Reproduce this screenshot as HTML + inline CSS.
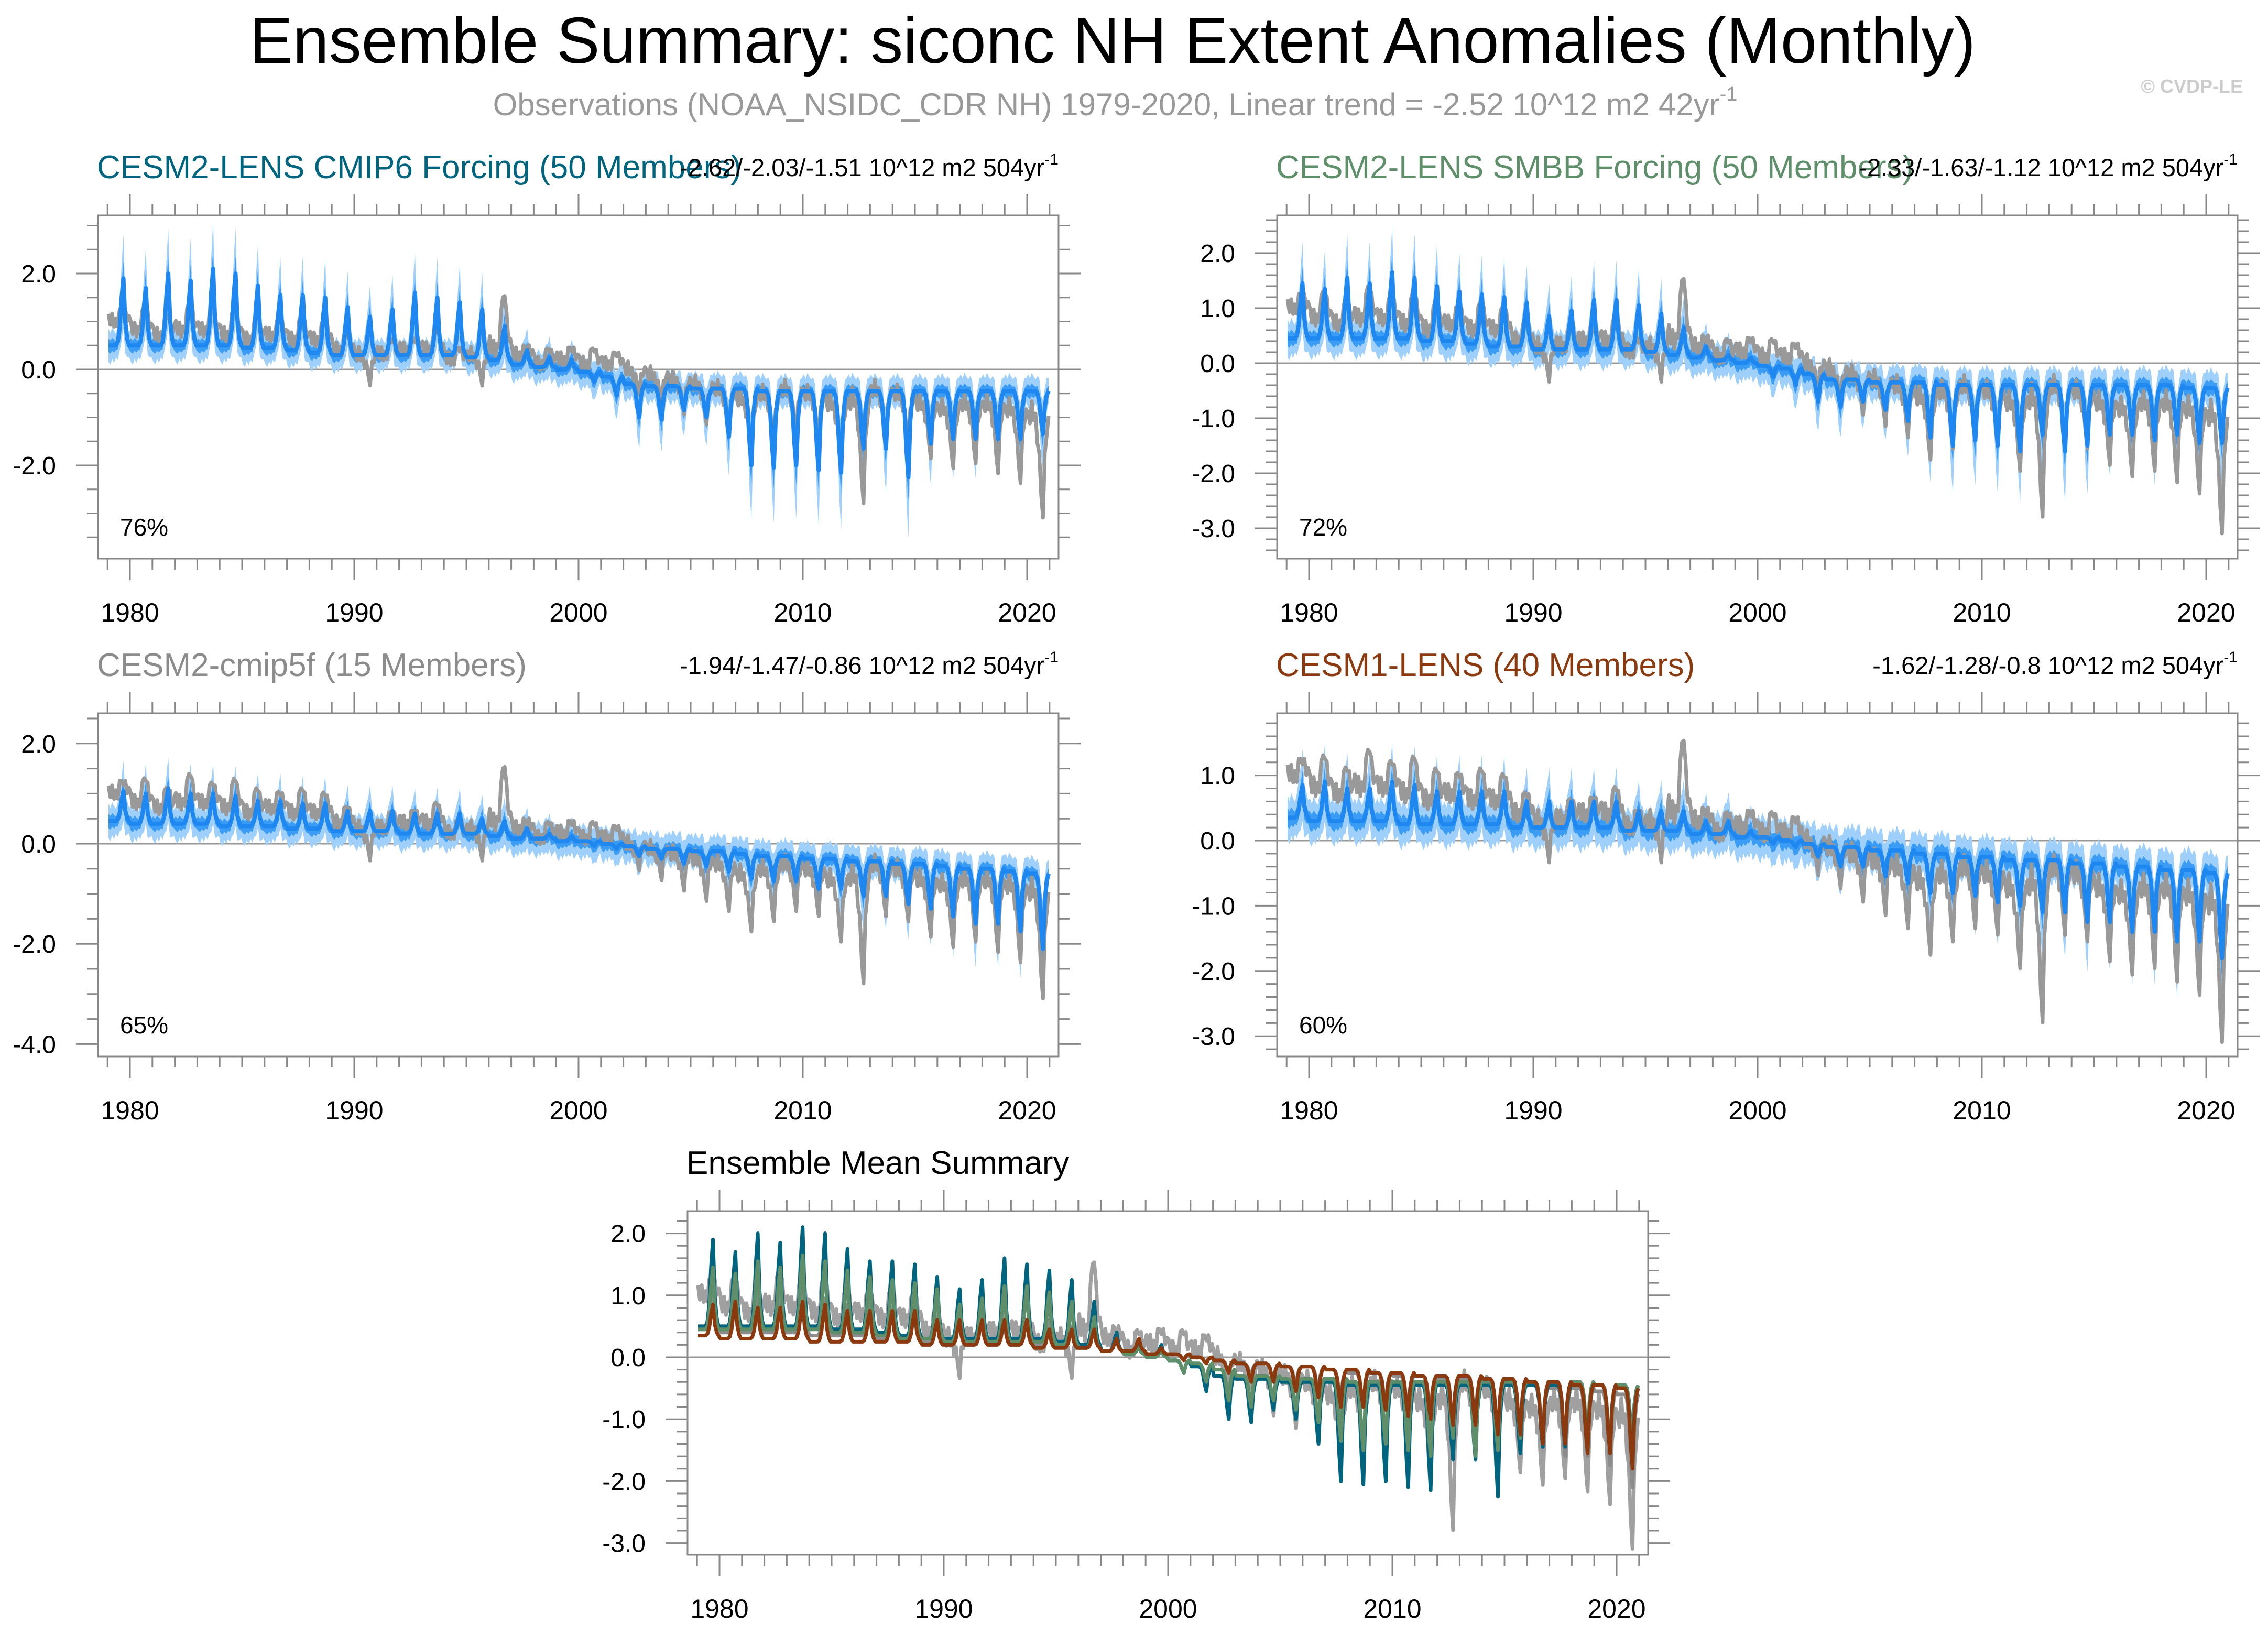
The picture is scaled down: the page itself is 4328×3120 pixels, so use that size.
<!DOCTYPE html>
<html><head><meta charset="utf-8"><style>
html,body{margin:0;padding:0;background:#fff;}
svg{display:block;font-family:"Liberation Sans",Arial,sans-serif;}
</style></head><body>
<svg id="chart" width="4328" height="3120" viewBox="0 0 4328 3120" xmlns="http://www.w3.org/2000/svg">
<rect width="4328" height="3120" fill="#fff"/>
<text x="2123" y="120" font-size="124" text-anchor="middle" fill="#000">Ensemble Summary: siconc NH Extent Anomalies (Monthly)</text>
<text x="2128" y="220" font-size="60" text-anchor="middle" fill="#999">Observations (NOAA_NSIDC_CDR NH) 1979-2020, Linear trend = -2.52 10^12 m2 42yr<tspan font-size="38" dy="-28">-1</tspan></text>
<text x="4280" y="177" font-size="36" font-weight="bold" text-anchor="end" fill="#ccc">© CVDP-LE</text>
<g id="panels"></g>
</svg>
<script>
// ---- data (one value per year 1979..2020) ----
const years = [1979,1980,1981,1982,1983,1984,1985,1986,1987,1988,1989,1990,1991,1992,1993,1994,1995,1996,1997,1998,1999,2000,2001,2002,2003,2004,2005,2006,2007,2008,2009,2010,2011,2012,2013,2014,2015,2016,2017,2018,2019,2020];
const monthShape = [0,0,0,0,0,0.05,0.25,0.7,1,0.35,0.1,0];
const obsShape = [0.1,0.05,0,0,0.05,0.2,0.5,0.85,1,0.5,0.2,0.1];
const obsWiggle = [0.12,-0.08,0.15,-0.1,0.05,-0.15,0.1,0.0,-0.12,0.1,-0.05,0.08];
const bandWiggle = [0.05,-0.04,0.08,0.0,-0.06,0.04,0.1,-0.02,0.06,-0.05,0.03,-0.03];
const obsBase = [1.0,0.8,0.7,0.8,0.8,0.7,0.6,0.7,0.6,0.6,0.4,0.3,0.3,0.4,0.4,0.2,0.3,0.4,0.3,0.1,0.2,0.1,0.1,0.0,-0.1,-0.2,-0.3,-0.4,-0.6,-0.5,-0.4,-0.5,-0.7,-0.6,-0.4,-0.5,-0.7,-0.8,-0.7,-0.7,-0.8,-0.9];
const obsSpike = [0.3,0.6,0.5,0.7,0.5,0.7,0.6,0.4,0.6,0.5,0.4,-0.5,0.4,0.3,0.5,0.3,-0.5,1.3,0.2,0.4,0.3,0.4,0.3,-0.4,-0.5,-0.6,-0.7,-0.8,-1.0,-0.9,-0.8,-0.8,-1.1,-2.0,-0.9,-0.9,-1.0,-1.1,-1.1,-1.3,-1.4,-2.0];
const cmip6Base = [0.5,0.5,0.5,0.5,0.5,0.5,0.45,0.45,0.4,0.35,0.3,0.3,0.3,0.3,0.3,0.3,0.25,0.2,0.1,0.05,0.0,-0.05,-0.15,-0.3,-0.35,-0.35,-0.4,-0.4,-0.4,-0.45,-0.45,-0.45,-0.45,-0.45,-0.45,-0.45,-0.45,-0.45,-0.45,-0.45,-0.45,-0.45];
const cmip6Spike = [1.4,1.2,1.5,1.35,1.6,1.5,1.3,1.1,1.15,1.15,1.0,0.8,0.95,1.3,1.2,1.1,1.0,0.7,0.3,0.2,0.2,-0.2,-0.4,-0.7,-0.7,-0.5,-0.6,-1.0,-1.6,-1.6,-1.55,-1.65,-1.7,-1.2,-1.2,-1.8,-1.1,-1.0,-1.0,-1.0,-1.0,-0.9];
const smbbBase = [0.45,0.45,0.45,0.45,0.45,0.45,0.4,0.4,0.35,0.3,0.3,0.25,0.25,0.25,0.25,0.25,0.2,0.15,0.1,0.05,0.0,-0.05,-0.1,-0.2,-0.3,-0.3,-0.35,-0.35,-0.35,-0.4,-0.4,-0.4,-0.4,-0.4,-0.4,-0.4,-0.4,-0.4,-0.4,-0.4,-0.45,-0.45];
const smbbSpike = [1.0,0.9,1.1,1.0,1.2,1.1,1.0,0.9,0.9,0.9,0.8,0.6,0.7,0.9,0.9,0.8,0.7,0.5,0.2,0.1,0.1,-0.2,-0.3,-0.5,-0.5,-0.4,-0.5,-0.7,-1.0,-1.1,-1.0,-1.1,-1.2,-0.9,-1.2,-1.1,-0.9,-0.9,-1.0,-0.9,-1.0,-1.0];
const c5fBase = [0.45,0.4,0.4,0.4,0.4,0.35,0.35,0.35,0.3,0.3,0.25,0.25,0.25,0.2,0.2,0.2,0.2,0.15,0.1,0.1,0.05,0.05,0.0,-0.05,-0.1,-0.1,-0.15,-0.15,-0.2,-0.25,-0.25,-0.3,-0.3,-0.35,-0.35,-0.4,-0.4,-0.45,-0.5,-0.5,-0.55,-0.6];
const c5fSpike = [0.6,0.6,0.7,0.6,0.6,0.6,0.5,0.5,0.5,0.5,0.4,0.4,0.4,0.4,0.4,0.4,0.3,0.3,0.2,0.1,0.1,-0.1,-0.1,-0.2,-0.2,-0.3,-0.3,-0.4,-0.5,-0.5,-0.5,-0.6,-0.6,-0.7,-0.7,-0.8,-0.9,-1.0,-1.1,-1.1,-1.2,-1.5];
const cesm1Base = [0.35,0.3,0.3,0.3,0.3,0.25,0.25,0.25,0.25,0.25,0.2,0.2,0.2,0.2,0.2,0.15,0.15,0.15,0.1,0.1,0.05,0.05,0.0,-0.05,-0.1,-0.1,-0.15,-0.15,-0.2,-0.2,-0.25,-0.25,-0.3,-0.3,-0.3,-0.35,-0.35,-0.4,-0.4,-0.45,-0.45,-0.5];
const cesm1Spike = [0.5,0.6,0.5,0.5,0.6,0.6,0.5,0.5,0.5,0.5,0.4,0.4,0.4,0.4,0.4,0.3,0.3,0.3,0.2,0.2,0.1,-0.1,-0.1,-0.2,-0.3,-0.3,-0.4,-0.5,-0.6,-0.6,-0.6,-0.7,-0.7,-0.8,-0.8,-0.9,-0.9,-1.0,-1.0,-1.1,-1.1,-1.3];
const innerWidth = [0.12,0.15];   // base half-width, growth with |spike|
const outerWidth = [0.3,0.4];
const pctLabels = ["76%","72%","65%","60%"];
const xTickLabels = ["1980","1990","2000","2010","2020"];

// ---- layout ----
const NS="http://www.w3.org/2000/svg";
const root=document.getElementById('panels');
function mk(tag,attrs,parent){const e=document.createElementNS(NS,tag);for(const k in attrs)e.setAttribute(k,attrs[k]);(parent||root).appendChild(e);return e;}
function series(base,spike,shape,wig){const out=[];for(let y=0;y<years.length;y++)for(let m=0;m<12;m++){out.push(base[y]+spike[y]*shape[m]+(wig?wig[m]*(1+Math.abs(spike[y])*0.3):0));}return out;}
const obs=series(obsBase,obsSpike,obsShape,obsWiggle);

function panel(p){
  const g=mk('g',{});
  
  
  const [L,T,R,B]=p.box;
  const X=t=>p.x1980+(t-1980)*42.8;
  const Y=v=>p.y0-v*p.unit;
  const clipId='clip-'+p.name;
  const cp=mk('clipPath',{id:clipId},g);mk('rect',{x:L,y:T,width:R-L,height:B-T},cp);
  const z=mk('line',{x1:L,x2:R,y1:Y(0),y2:Y(0),stroke:'#999','stroke-width':3},g);
  
  
  const body=mk('g',{'clip-path':'url(#'+clipId+')'},g);
  const n=years.length*12;
  const tAt=i=>years[0]+i/12+1/24;
  if(p.bands){
    const mean=series(p.base,p.spike,monthShape);
    const amp=[];for(let y=0;y<years.length;y++)for(let m=0;m<12;m++)amp.push(Math.abs(p.spike[y]*monthShape[m]));
    [[outerWidth,'#9fd0fb','outer-band',1],[innerWidth,'#3a9cf5','inner-band',0.5]].forEach(([w,c,nm,wf])=>{
      let up='',dn='';
      for(let i=0;i<n;i++){up+=(i?'L':'M')+X(tAt(i)).toFixed(1)+','+Y(mean[i]+w[0]+w[1]*amp[i]+wf*bandWiggle[i%12]).toFixed(1);}
      for(let i=n-1;i>=0;i--){dn+='L'+X(tAt(i)).toFixed(1)+','+Y(mean[i]-w[0]-w[1]*amp[i]*1.4-wf*bandWiggle[(i+5)%12]).toFixed(1);}
      const b=mk('path',{d:up+dn+'Z',fill:c,stroke:'none'},body);
      
      
    });
    let d='';for(let i=0;i<n;i++)d+=(i?'L':'M')+X(tAt(i)).toFixed(1)+','+Y(obs[i]).toFixed(1);
    const o=mk('path',{d,fill:'none',stroke:'#999','stroke-width':7,'stroke-linejoin':'round'},body);
    
    
    let d2='';for(let i=0;i<n;i++)d2+=(i?'L':'M')+X(tAt(i)).toFixed(1)+','+Y(mean[i]).toFixed(1);
    const ml=mk('path',{d:d2,fill:'none',stroke:'#1e88f0','stroke-width':8,'stroke-linejoin':'round'},body);
    
    
  } else {
    p.lines.forEach(ln=>{
      const v=ln.obs?obs:series(ln.base,ln.spike,monthShape);
      let d='';for(let i=0;i<n;i++)d+=(i?'L':'M')+X(tAt(i)).toFixed(1)+','+Y(v[i]).toFixed(1);
      const l=mk('path',{d,fill:'none',stroke:ln.color,'stroke-width':7,'stroke-linejoin':'round'},body);
      
      
    });
  }
  const fr=mk('rect',{x:L,y:T,width:R-L,height:B-T,fill:'none',stroke:'#888','stroke-width':3},g);
  
  
  for(let yr=1979;yr<=2021;yr++){
    const x=X(yr);if(x<L||x>R)continue;
    const maj=yr%10===0, len=maj?41:21;
    mk('line',{x1:x,x2:x,y1:T,y2:T-len,stroke:'#888','stroke-width':3},g);
    mk('line',{x1:x,x2:x,y1:B,y2:B+len,stroke:'#888','stroke-width':3},g);
  }
  xTickLabels.forEach(s=>{
    const t=mk('text',{x:X(+s),y:B+120,'font-size':50,'text-anchor':'middle',fill:'#000'},g);t.textContent=s;
    
    
  });
  const vmin=(p.y0-B)/p.unit, vmax=(p.y0-T)/p.unit;
  for(let k=Math.ceil(vmin/p.minor-1e-6);k*p.minor<=vmax+1e-6;k++){
    const v=k*p.minor, y=Y(v);
    const maj=Math.abs(v/p.major-Math.round(v/p.major))<1e-6, len=maj?42:21;
    mk('line',{x1:L,x2:L-len,y1:y,y2:y,stroke:'#888','stroke-width':3},g);
    mk('line',{x1:R,x2:R+len,y1:y,y2:y,stroke:'#888','stroke-width':3},g);
    if(maj){
      const t=mk('text',{x:L-80,y:y+17,'font-size':48,'text-anchor':'end',fill:'#000'},g);
      t.textContent=v.toFixed(1);
      
      
    }
  }
  const tt=mk('text',{x:L-2,y:p.titleY,'font-size':62,fill:p.titleColor},g);tt.textContent=p.title;
  
  
  if(p.stats){
    const st=mk('text',{x:R,y:p.titleY-4,'font-size':47,'text-anchor':'end',fill:'#000'},g);
    st.innerHTML=p.stats+'<tspan font-size="30" dy="-22">-1</tspan>';
    
    
  }
  if(p.pct){
    const pt=mk('text',{x:L+42,y:B-44,'font-size':46,fill:'#000'},g);pt.textContent=p.pct;
    
    
  }
}

panel({name:'panel-cesm2-cmip6',box:[187,411,2020,1066],y0:705,unit:91.5,x1980:248,major:2,minor:0.5,bands:true,base:cmip6Base,spike:cmip6Spike,
  title:'CESM2-LENS CMIP6 Forcing (50 Members)',titleColor:'#00647f',titleY:340,stats:'-2.62/-2.03/-1.51 10^12 m2 504yr',pct:pctLabels[0]});
panel({name:'panel-cesm2-smbb',box:[2437,411,4270,1066],y0:693,unit:105,x1980:2498,major:1,minor:0.2,bands:true,base:smbbBase,spike:smbbSpike,
  title:'CESM2-LENS SMBB Forcing (50 Members)',titleColor:'#5f8f6a',titleY:340,stats:'-2.33/-1.63/-1.12 10^12 m2 504yr',pct:pctLabels[1]});
panel({name:'panel-cesm2-cmip5f',box:[187,1361,2020,2016],y0:1610,unit:95.6,x1980:248,major:2,minor:0.5,bands:true,base:c5fBase,spike:c5fSpike,
  title:'CESM2-cmip5f (15 Members)',titleColor:'#8c8c8c',titleY:1290,stats:'-1.94/-1.47/-0.86 10^12 m2 504yr',pct:pctLabels[2]});
panel({name:'panel-cesm1-lens',box:[2437,1361,4270,2016],y0:1604,unit:124.4,x1980:2498,major:1,minor:0.2,bands:true,base:cesm1Base,spike:cesm1Spike,
  title:'CESM1-LENS (40 Members)',titleColor:'#8b3a0f',titleY:1290,stats:'-1.62/-1.28/-0.8 10^12 m2 504yr',pct:pctLabels[3]});
panel({name:'panel-ensemble-mean-summary',box:[1312,2311,3145,2967],y0:2590,unit:118.2,x1980:1373,major:1,minor:0.2,bands:false,
  title:'Ensemble Mean Summary',titleColor:'#000',titleY:2240,
  lines:[{name:'observations-line',obs:true,color:'#a0a0a0'},
         {name:'cesm2-cmip5f-mean-line',base:c5fBase,spike:c5fSpike,color:'#8c8c8c'},
         {name:'cesm2-cmip6-mean-line',base:cmip6Base,spike:cmip6Spike,color:'#00647f'},
         {name:'cesm2-smbb-mean-line',base:smbbBase,spike:smbbSpike,color:'#5f8f6a'},
         {name:'cesm1-lens-mean-line',base:cesm1Base,spike:cesm1Spike,color:'#8b3a0f'}]});
</script>
</body></html>
